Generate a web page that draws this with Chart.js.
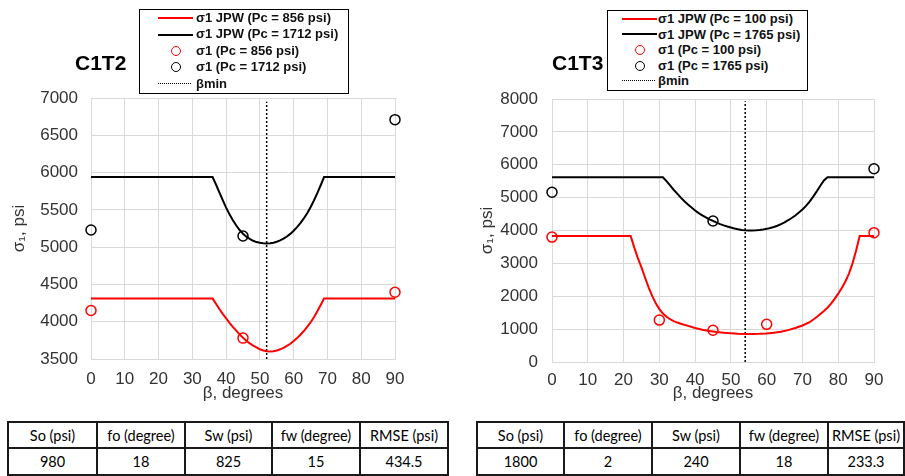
<!DOCTYPE html>
<html>
<head>
<title>C1T2 / C1T3 - sigma1 vs beta</title>
<script src="https://cdn.jsdelivr.net/npm/chart.js"></script>
<style>
body {
    margin:0;
    background:#fff;
    font-family:"Liberation Sans", Arial, sans-serif;
}
#wrap {
    position:relative;
    width:905px;
    height:476px;
    overflow:hidden;
}
canvas { position:absolute; top:0; }
.title {
    position:absolute;
    font-size:21px;
    font-weight:bold;
    color:#000;
    line-height:24px;
}
.legend {
    position:absolute;
    border:1.5px solid #000;
    box-sizing:border-box;
    background:#fff;
}
.legend .row {
    position:relative;
    font-size:13px;
    font-weight:bold;
    color:#111;
    white-space:nowrap;
}
.legend .row span { position:absolute; top:0; }
.legend .mark { position:absolute; box-sizing:border-box; }
table {
    position:absolute;
    top:421px;
    border-collapse:collapse;
    table-layout:fixed;
    font-family:Lato, "Open Sans", sans-serif;
    font-size:14.5px;
    color:#000;
}
td {
    border:2px solid #1a1a1a;
    text-align:center;
    padding:0;
}
tr.head td { height:24px; }
tr.vals td { height:25px; }
</style>
</head>

<body>
<div id="wrap">
<canvas id="c1t2" width="450" height="410" style="left:0"></canvas>
<canvas id="c1t3" width="450" height="410" style="left:455px"></canvas>

<div class="title" style="left:75px;top:51px">C1T2</div>
<div class="title" style="left:552px;top:51px">C1T3</div>

<div id="leg1" class="legend" style="left:139px;top:9px;width:210px;height:85px"></div>
<div id="leg2" class="legend" style="left:607px;top:10px;width:201px;height:81px"></div>

<table id="tab1" style="left:7px;width:440px"></table>
<table id="tab2" style="left:476px;width:427px"></table>
</div>

<script>
// ---------------- DATA : C1T2 ----------------
const c1t2Beta = [0,
    36,37,38,39,40,41,42,43,44,45,46,47,48,49,50,51,52,
    53,54,55,56,57,58,59,60,61,62,63,64,65,66,67,68,69,
    90];
const c1t2JpwLow = [4310,
    4310,4240,4170,4105,4045,3985,3930,3880,3830,3785,3745,3710,3680,3655,3630,3615,3605,
    3600,3605,3615,3630,3650,3675,3705,3740,3780,3825,3875,3930,3990,4060,4140,4225,4310,
    4310];
const c1t2JpwHigh = [5940,
    5940,5840,5735,5630,5530,5440,5360,5290,5230,5180,5140,5110,5085,5068,5058,5052,5050,
    5052,5060,5072,5090,5113,5142,5178,5220,5268,5323,5385,5455,5535,5625,5725,5830,5940,
    5940];
const c1t2PtBeta = [0, 45, 90];
const c1t2PtLow = [4150, 3780, 4395];
const c1t2PtHigh = [5230, 5150, 6710];
const c1t2BetaMin = 52;
const c1t2Legend = ["σ1 JPW (Pc = 856 psi)", "σ1 JPW (Pc = 1712 psi)",
                    "σ1 (Pc = 856 psi)", "σ1 (Pc = 1712 psi)", "βmin"];

// ---------------- DATA : C1T3 ----------------
const c1t3BetaLow = [0,
    22,23,24,25,26,27,28,29,30,31,32,33,34,35,36,38,40,42,44,46,48,50,52,54,
    56,58,60,62,64,66,68,70,72,74,76,77,78,79,80,81,82,83,84,85,86,
    90];
const c1t3JpwLow = [3830,
    3830,3480,3160,2880,2570,2270,2010,1790,1610,1475,1375,1300,1245,1200,1165,1100,1035,982,942,912,890,875,862,855,
    855,860,870,890,922,970,1035,1110,1210,1370,1550,1650,1775,1920,2080,2250,2450,2690,3000,3390,3830,
    3830];
const c1t3BetaHigh = [0,
    31,32,33,34,35,36,37,38,39,40,41,42,43,44,45,46,47,48,49,50,51,52,53,54,
    55,56,57,58,59,60,61,62,63,64,65,66,67,68,69,70,71,72,73,74,75,76,77,
    90];
const c1t3JpwHigh = [5620,
    5620,5500,5370,5240,5120,5000,4890,4790,4700,4610,4530,4460,4400,4340,4290,4240,4195,4155,4120,4090,4060,4035,4015,4005,
    4000,4000,4005,4015,4030,4050,4075,4105,4145,4195,4250,4312,4380,4458,4545,4640,4750,4880,5030,5190,5360,5520,5620,
    5620];
const c1t3PtBetaLow = [0, 30, 45, 60, 90];
const c1t3PtLow = [3800, 1275, 965, 1145, 3935];
const c1t3PtBetaHigh = [0, 45, 90];
const c1t3PtHigh = [5165, 4290, 5880];
const c1t3BetaMin = 54;
const c1t3Legend = ["σ1 JPW (Pc = 100 psi)", "σ1 JPW (Pc = 1765 psi)",
                    "σ1 (Pc = 100 psi)", "σ1 (Pc = 1765 psi)", "βmin"];

// ---------------- DATA : FIT TABLES ----------------
const tableHead = ["So (psi)", "fo (degree)", "Sw (psi)", "fw (degree)", "RMSE (psi)"];
const c1t2Fit = ["980", "18", "825", "15", "434.5"];
const c1t3Fit = ["1800", "2", "240", "18", "233.3"];

// ---------------- HELPERS ----------------
const RED = "#ff0000";
const BLACK = "#000000";
const GRID = "#d9d9d9";
const TICK = "#333333";
const axisFont = {family:"'Liberation Sans', Arial, sans-serif", size:17};

function xy(xs, ys){
    return xs.map((x,i)=>({x:x, y:ys[i]}));
}

function curve(xs, ys, color){
    return {data:xy(xs,ys), showLine:true, borderColor:color, borderWidth:2,
            pointRadius:0, tension:0, fill:false};
}

function markers(xs, ys, color){
    return {data:xy(xs,ys), showLine:false, pointRadius:5, pointBorderWidth:1.5,
            pointBorderColor:color, pointBackgroundColor:"rgba(0,0,0,0)", clip:false};
}

function betaLine(b, y0, y1){
    return {data:[{x:b,y:y0},{x:b,y:y1}], showLine:true, borderColor:BLACK,
            borderWidth:1.5, borderDash:[2,2], pointRadius:0};
}

function buildChart(id, datasets, o){
    return new Chart(document.getElementById(id), {
        type:"scatter",
        data:{datasets:datasets},
        options:{
            responsive:false,
            animation:false,
            layout:{padding:{top:o.top, right:o.right, left:0, bottom:0}},
            plugins:{legend:{display:false}, tooltip:{enabled:false}},
            scales:{
                x:{
                    type:"linear", min:0, max:90,
                    ticks:{stepSize:10, padding:o.xPad, color:TICK, font:axisFont},
                    grid:{color:GRID, drawTicks:false},
                    border:{color:GRID},
                    title:{display:true, text:"β, degrees", color:TICK, font:axisFont,
                           padding:{top:0, bottom:6}},
                    afterFit:s=>{ s.height = o.xh; }
                },
                y:{
                    min:o.ymin, max:o.ymax,
                    ticks:{stepSize:o.step, padding:o.yPad, color:TICK, font:axisFont,
                           callback:v=>String(v)},
                    grid:{color:GRID, drawTicks:false},
                    border:{color:GRID},
                    title:{display:true, text:"σ₁, psi", color:TICK, font:axisFont,
                           padding:{top:o.titlePad, bottom:0}},
                    afterFit:s=>{ s.width = o.yw; }
                }
            }
        }
    });
}

// ---------------- CHARTS ----------------
buildChart("c1t2", [
    markers(c1t2PtBeta, c1t2PtLow, RED),
    markers(c1t2PtBeta, c1t2PtHigh, BLACK),
    curve(c1t2Beta, c1t2JpwLow, RED),
    curve(c1t2Beta, c1t2JpwHigh, BLACK),
    betaLine(c1t2BetaMin, 3500, 6950)
], {top:98, right:55, xh:51, yw:91, ymin:3500, ymax:7000, step:500,
    xPad:10, yPad:13, titlePad:9});

buildChart("c1t3", [
    markers(c1t3PtBetaLow, c1t3PtLow, RED),
    markers(c1t3PtBetaHigh, c1t3PtHigh, BLACK),
    curve(c1t3BetaLow, c1t3JpwLow, RED),
    curve(c1t3BetaHigh, c1t3JpwHigh, BLACK),
    betaLine(c1t3BetaMin, 0, 7930)
], {top:99, right:31, xh:48, yw:97, ymin:0, ymax:8000, step:1000,
    xPad:8, yPad:14, titlePad:22});

// ---------------- LEGEND BOXES ----------------
function buildLegend(id, labels, rowH, markLeft, textLeft){
    const box = document.getElementById(id);
    const kinds = [["line",RED],["line",BLACK],["dot",RED],["dot",BLACK],["dash",BLACK]];
    labels.forEach((txt,i)=>{
        const row = document.createElement("div");
        row.className = "row";
        row.style.height = rowH + "px";
        row.style.lineHeight = rowH + "px";
        const m = document.createElement("div");
        m.className = "mark";
        const [k,c] = kinds[i];
        if(k === "line"){
            m.style.cssText = `left:${markLeft}px;width:35px;top:${rowH/2-1}px;border-top:2px solid ${c}`;
        } else if(k === "dot"){
            m.style.cssText = `left:${markLeft+13}px;width:10px;height:10px;top:${rowH/2-5}px;border:1.5px solid ${c};border-radius:50%`;
        } else {
            m.style.cssText = `left:${markLeft}px;width:33px;top:${rowH/2-1}px;border-top:1.5px dotted ${c}`;
        }
        const s = document.createElement("span");
        s.style.left = textLeft + "px";
        s.textContent = txt;
        row.appendChild(m);
        row.appendChild(s);
        box.appendChild(row);
    });
}
buildLegend("leg1", c1t2Legend, 16.4, 18, 56);
buildLegend("leg2", c1t3Legend, 15.6, 14, 50);

// ---------------- TABLES ----------------
function buildTable(id, vals, widths){
    const t = document.getElementById(id);
    const cg = document.createElement("colgroup");
    widths.forEach(w=>{
        const c = document.createElement("col");
        c.style.width = w + "px";
        cg.appendChild(c);
    });
    t.appendChild(cg);
    [["head",tableHead],["vals",vals]].forEach(([cls,cells])=>{
        const tr = document.createElement("tr");
        tr.className = cls;
        cells.forEach(v=>{
            const td = document.createElement("td");
            td.textContent = v;
            tr.appendChild(td);
        });
        t.appendChild(tr);
    });
}
buildTable("tab1", c1t2Fit, [89,88,87,88,88]);
buildTable("tab2", c1t3Fit, [87,88,88,88,76]);
</script>
</body>
</html>
